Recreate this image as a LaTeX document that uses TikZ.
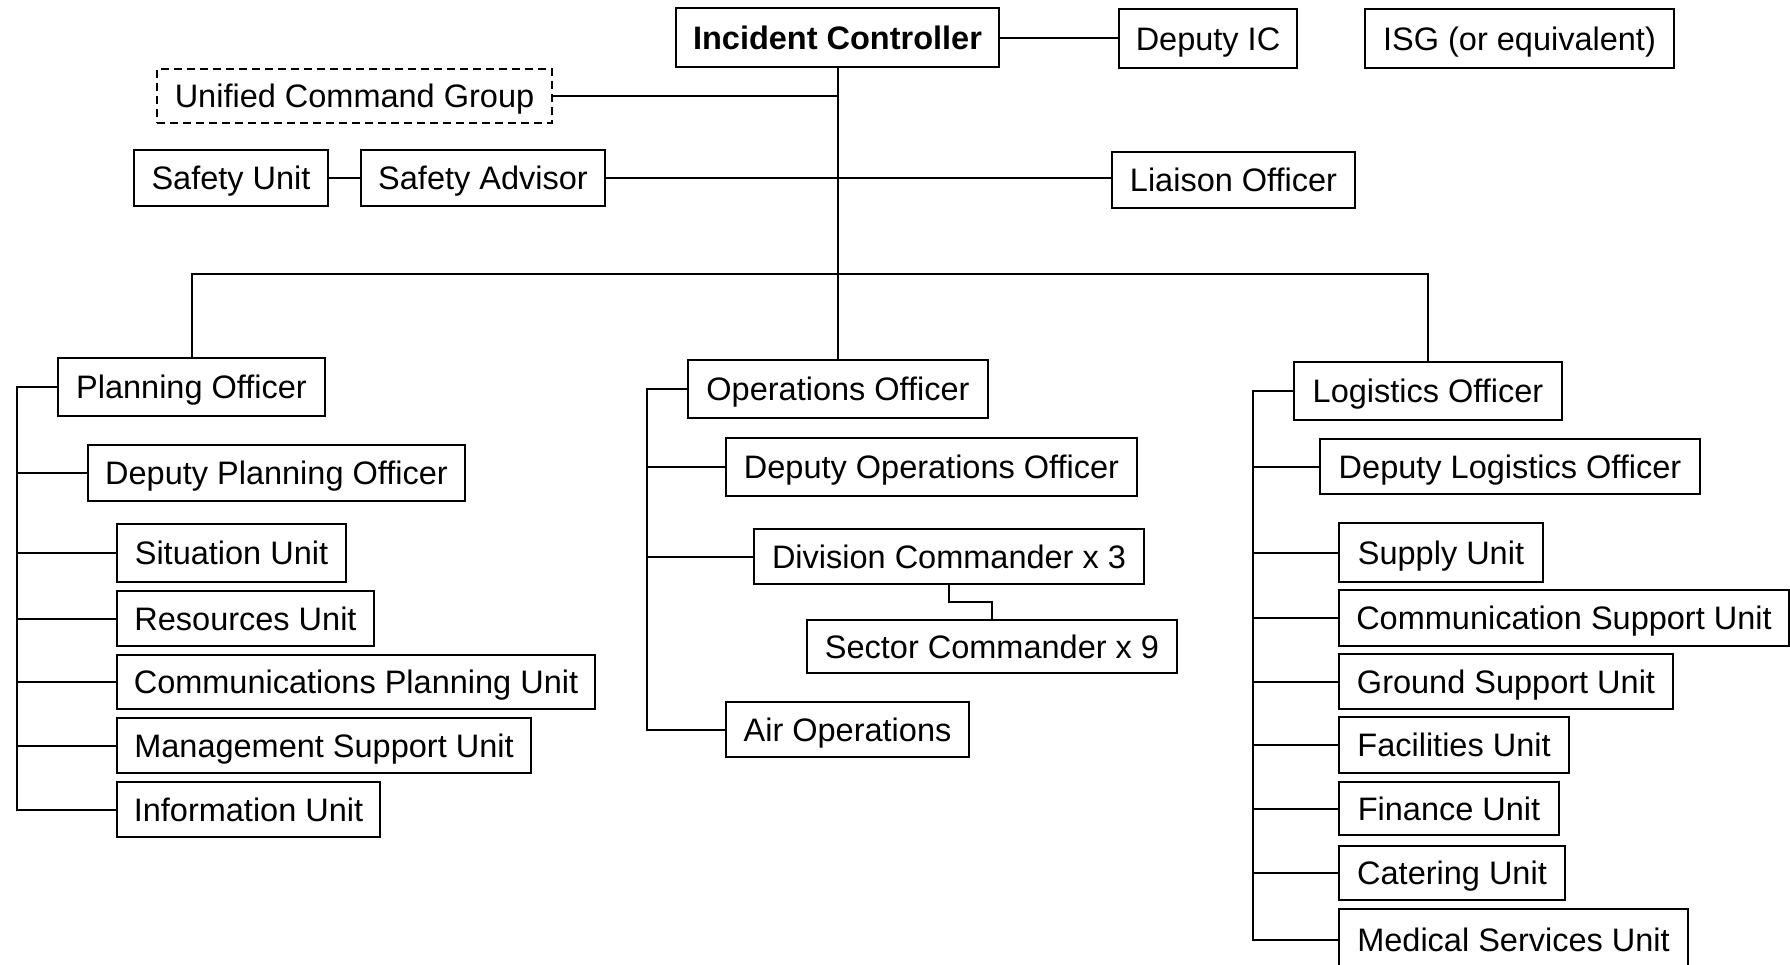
\documentclass[tikz,border=0pt]{standalone}
\usepackage{fontspec}
\setmainfont{Liberation Sans}
\usetikzlibrary{calc}
\tikzset{
  unit/.style={draw, line width=2pt, inner sep=0pt, align=center,
    text height=23.4pt, text depth=0pt,
    font=\fontsize{32.5}{39}\selectfont},
  dashunit/.style={unit, dash pattern=on 8pt off 5pt},
  link/.style={line width=2pt},
}
\newcommand{\unitbox}[6][]{% [extra] name, cx, cy, w, h  -> text follows
  \node[unit,#1,minimum width=#5pt,minimum height=#6pt] (#2) at (#3,#4)}
\begin{document}
\begin{tikzpicture}[x=1pt,y=-1pt]
\useasboundingbox (0,0) rectangle (1790,964);
\clip (0,0) rectangle (1790,964);
\fill[white] (0,0) rectangle (1790,964);

% command level
\unitbox[font=\fontsize{32.5}{39}\selectfont\bfseries]{ic}{837.5}{37.5}{323}{59} {Incident Controller};
\unitbox{dic}{1208}{38.5}{178}{59} {Deputy IC};
\unitbox{isg}{1519.5}{38.5}{309}{59} {ISG (or equivalent)};
\unitbox[dashunit]{ucg}{354.5}{96}{395}{54} {Unified Command Group};
\unitbox{su}{231}{178}{194}{56} {Safety Unit};
\unitbox{sa}{483}{178}{244}{56} {Safety Advisor};
\unitbox{li}{1233.5}{180}{243}{56} {Liaison Officer};

% section officers
\unitbox{po}{191.5}{387}{267}{58} {Planning Officer};
\unitbox{oo}{838}{389}{300}{58} {Operations Officer};
\unitbox{lo}{1428}{391}{268}{58} {Logistics Officer};

% planning section
\unitbox{dpo}{276.5}{473}{377}{56} {Deputy Planning Officer};
\unitbox{sit}{231.5}{553}{229}{58} {Situation Unit};
\unitbox{res}{245.5}{618.5}{257}{55} {Resources Unit};
\unitbox{cpu}{356}{682}{478}{54} {Communications Planning Unit};
\unitbox{msu}{324}{745.5}{414}{55} {Management Support Unit};
\unitbox{inf}{248.5}{809.5}{263}{55} {Information Unit};

% operations section
\unitbox{doo}{931.5}{467}{411}{58} {Deputy Operations Officer};
\unitbox{dc}{949}{556.5}{390}{55} {Division Commander x 3};
\unitbox{sc}{992}{646.5}{370}{53} {Sector Commander x 9};
\unitbox{air}{847.5}{729.5}{243}{55} {Air Operations};

% logistics section
\unitbox{dlo}{1510}{466.5}{380}{55} {Deputy Logistics Officer};
\unitbox{sup}{1441}{552.5}{204}{59} {Supply Unit};
\unitbox{csu}{1564}{618}{450}{56} {Communication Support Unit};
\unitbox{gsu}{1506}{681.5}{334}{55} {Ground Support Unit};
\unitbox{fac}{1454}{745}{230}{56} {Facilities Unit};
\unitbox{fin}{1449}{808.5}{220}{53} {Finance Unit};
\unitbox{cat}{1452}{873}{226}{54} {Catering Unit};
\unitbox{med}{1513.5}{939.5}{349}{61} {Medical Services Unit};

% bus positions
\coordinate (busy) at (0,274);
\coordinate (pb) at (17,0);
\coordinate (ob) at (647,0);
\coordinate (lb) at (1253,0);

% command links
\draw[link] (ic.east) -- (ic.east -| dic.west);
\draw[link] (ic.south) -- (ic.south |- oo.north);
\draw[link] (ucg.east) -- (ucg.east -| ic.south);
\draw[link] (su.east) -- (sa.west);
\draw[link] (sa.east) -- (sa.east -| li.west);
\draw[link] (po.north) |- (busy -| lo.north) -- (lo.north);

% planning tree
\draw[link] (po.west) -- (po.west -| pb) -- (inf.west -| pb) -- (inf.west);
\foreach \n in {dpo,sit,res,cpu,msu}
  \draw[link] (\n.west -| pb) -- (\n.west);

% operations tree
\draw[link] (oo.west) -- (oo.west -| ob) -- (air.west -| ob) -- (air.west);
\foreach \n in {doo,dc}
  \draw[link] (\n.west -| ob) -- (\n.west);
\draw[link] (dc.south) |- ($(dc.south)!0.5!(sc.north)$) -| (sc.north);

% logistics tree
\draw[link] (lo.west) -- (lo.west -| lb) -- (med.west -| lb) -- (med.west);
\foreach \n in {dlo,sup,csu,gsu,fac,fin,cat}
  \draw[link] (\n.west -| lb) -- (\n.west);
\end{tikzpicture}
\end{document}
